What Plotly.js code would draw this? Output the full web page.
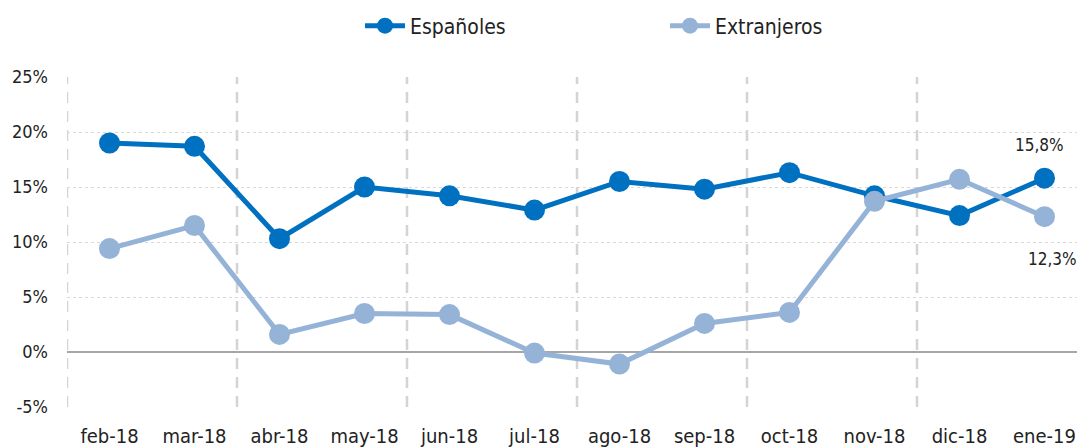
<!DOCTYPE html>
<html>
<head>
<meta charset="utf-8">
<script src="https://cdn.plot.ly/plotly-3.0.1.min.js"></script>
<style>
html,body{margin:0;padding:0;background:#fff;}
#chart{width:1077px;height:448px;}
</style>
</head>
<body>
<div id="chart"></div>
<script>
const categories = ["feb-18","mar-18","abr-18","may-18","jun-18","jul-18","ago-18","sep-18","oct-18","nov-18","dic-18","ene-19"];
const espanoles = [19.0, 18.7, 10.3, 15.0, 14.2, 12.9, 15.5, 14.8, 16.3, 14.2, 12.4, 15.8];
const extranjeros = [9.4, 11.5, 1.6, 3.5, 3.4, -0.1, -1.1, 2.6, 3.6, 13.7, 15.7, 12.3];
const yTicks = [-5, 0, 5, 10, 15, 20, 25];

const FONT = '"Liberation Sans Narrow", "DejaVu Sans Condensed", "Roboto", sans-serif';
const idx = categories.map((c, i) => i);

const fmt = v => v.toFixed(1).replace('.', ',') + '%';

const traces = [
  {
    x: idx, y: espanoles, name: 'Españoles', type: 'scatter', mode: 'lines+markers',
    line: {color: '#0070C0', width: 5},
    marker: {color: '#0070C0', size: 21},
    hoverinfo: 'skip'
  },
  {
    x: idx, y: extranjeros, name: 'Extranjeros', type: 'scatter', mode: 'lines+markers',
    line: {color: '#95B3D7', width: 5},
    marker: {color: '#95B3D7', size: 21},
    hoverinfo: 'skip'
  }
];

const shapes = [];
for (let i = 0; i < categories.length - 1; i += 2) {
  shapes.push({
    type: 'line', xref: 'x', yref: 'y', x0: i - 0.5, x1: i - 0.5,
    y0: yTicks[0], y1: yTicks[yTicks.length - 1],
    line: {color: '#d4d4d4', width: 2.5, dash: '11px,8px'}, layer: 'below'
  });
}

const last = categories.length - 1;
const annotations = [
  {x: last, y: espanoles[last], xref: 'x', yref: 'y', text: fmt(espanoles[last]),
   showarrow: false, xshift: -5, yshift: 33, font: {family: FONT, size: 17, color: '#222'}},
  {x: last, y: extranjeros[last], xref: 'x', yref: 'y', text: fmt(extranjeros[last]),
   showarrow: false, xshift: 8, yshift: -42, font: {family: FONT, size: 17, color: '#222'}}
];

const plotW = 1077 - 67;
const layout = {
  width: 1077, height: 448,
  margin: {l: 67, r: 0, t: 77, b: 41, pad: 0},
  paper_bgcolor: '#fff', plot_bgcolor: '#fff',
  font: {family: FONT, size: 18, color: '#222'},
  showlegend: true,
  legend: {
    orientation: 'h', x: (360 - 67) / plotW, xanchor: 'left', y: 1 + (77 - 26) / 330, yanchor: 'middle',
    font: {family: FONT, size: 21, color: '#222'}, entrywidth: 250, itemwidth: 40,
    bgcolor: 'rgba(0,0,0,0)'
  },
  xaxis: {
    range: [-0.5, -0.5 + plotW / 85], tickmode: 'array', tickvals: idx, ticktext: categories,
    showgrid: false, zeroline: false, showline: false, ticks: '', automargin: false,
    tickfont: {family: FONT, size: 20, color: '#222'}, ticklabelstandoff: 15, fixedrange: true
  },
  yaxis: {
    range: [yTicks[0], yTicks[yTicks.length - 1]], tickmode: 'array', tickvals: yTicks,
    ticktext: yTicks.map(v => v + '%'),
    showgrid: true, gridcolor: '#d9d9d9', griddash: 'dot', gridwidth: 1,
    zeroline: true, zerolinecolor: '#a6a6a6', zerolinewidth: 1.3,
    showline: false, ticks: '', automargin: false,
    tickfont: {family: FONT, size: 18, color: '#222'}, ticklabelstandoff: 18, fixedrange: true
  },
  shapes: shapes,
  annotations: annotations
};

Plotly.newPlot('chart', traces, layout, {displayModeBar: false, staticPlot: true});
</script>
</body>
</html>
